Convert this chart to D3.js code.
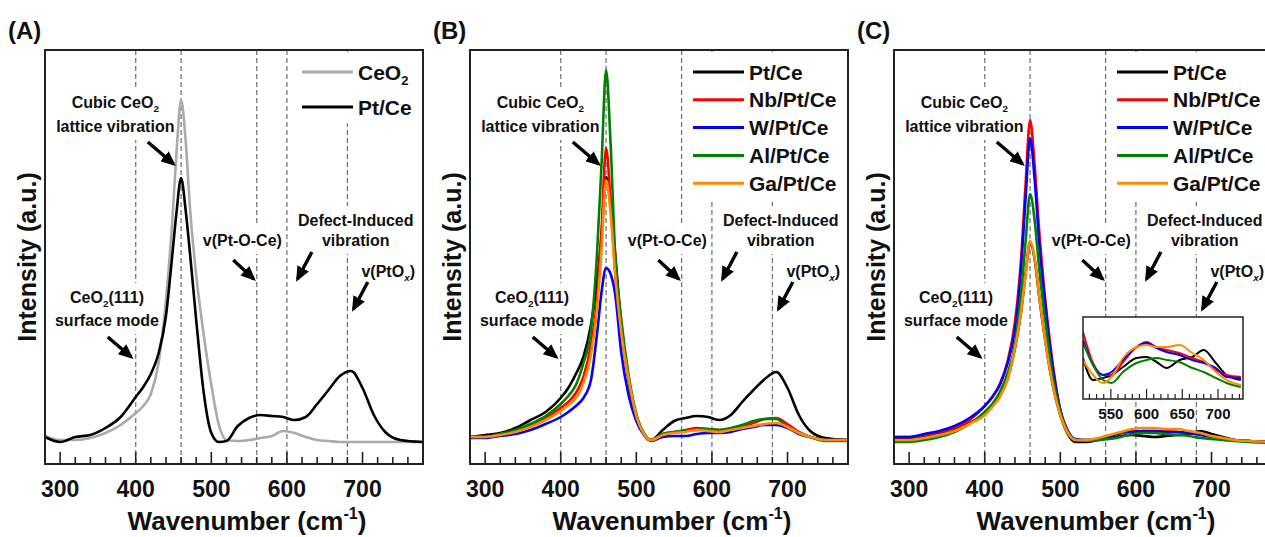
<!DOCTYPE html>
<html>
<head>
<meta charset="utf-8">
<script src="https://cdn.jsdelivr.net/npm/d3@7"></script>
<style>
  body { margin: 0; background: #fff; }
  svg text { font-family: "Liberation Sans", Arial, sans-serif; font-weight: bold; fill: #111; }
</style>
</head>
<body>
<svg id="chart" width="1265" height="537"></svg>
<script>
// Raman spectra, intensity in arbitrary units
const wavenumber = [280,300,320,340,360,380,400,410,420,430,440,448,454,460,466,472,480,490,500,510,520,535,550,565,580,595,610,625,640,655,670,685,700,715,730,750,780];

const ceo2A = [28,24,24,26,31,39,51,58,70,100,164,239,312,364,324,254,189,129,79,39,24,23,24,26,28,33,31,27,24,23,22,22,22,22,22,22,22];
const ptceA = [27,22,27,29,36,47,67,77,90,110,148,206,252,286,254,209,144,71,31,22,23,38,46,49,48,47,44,47,60,74,88,93,76,49,32,24,22];

const ptceB = [27,29,31,36,44,52,66,76,90,107,139,182,229,287,262,210,140,82,46,30,24,34,43,46,48,47,44,49,62,74,85,92,76,49,33,26,24];
const nbB   = [27,27,30,33,38,46,56,62,71,87,119,164,234,316,262,192,132,84,48,30,24,30,32,34,36,35,34,35,38,41,45,46,40,32,27,24,24];
const wB    = [26,26,28,30,34,40,47,52,58,66,84,130,172,196,190,170,112,68,43,29,23,27,28,28,30,31,31,32,35,37,39,39,36,30,27,24,24];
const alB   = [27,27,30,34,40,48,60,68,79,101,134,210,300,394,320,210,145,88,50,31,24,30,32,33,34,35,34,36,39,43,45,45,37,31,27,23,23];
const gaB   = [27,27,29,32,37,44,53,59,66,81,109,154,214,284,250,190,132,84,48,30,24,29,31,32,34,33,32,34,36,38,40,41,37,31,27,24,24];

const ptceC = [25,25,27,30,34,41,50,58,68,85,116,152,190,222,205,168,124,79,49,30,22,22,24,26,28,29,28,27,28,29,30,33,30,27,24,23,22];
const nbC   = [27,27,29,32,36,44,58,67,80,102,142,204,279,344,299,234,165,100,54,33,24,24,25,28,31,33,33,33,33,32,31,30,28,26,24,23,22];
const wC    = [27,27,30,33,38,46,58,67,79,100,135,195,265,326,285,222,160,96,54,33,25,24,25,28,31,32,33,33,32,32,31,29,27,25,24,23,22];
const alC   = [22,22,24,27,32,40,52,60,72,90,120,170,222,270,244,196,144,87,52,32,24,23,24,25,27,30,31,31,30,29,28,26,25,24,23,22,21];
const gaC   = [24,24,26,29,33,40,49,57,67,84,116,152,189,223,206,169,124,79,49,31,24,24,26,29,32,35,36,36,35,35,33,31,28,26,24,23,22];

// magnified view of panel C, 510-735 cm-1
const insetWavenumber = [511,525,539,551,567,586,600,614,628,646,664,680,697,712,732];
const insetPtce = [41,19,21,24,32,41,42,37,31,39,42,49,36,24,19];
const insetNb   = [67,36,24,24,37,52,57,52,49,46,41,37,29,24,22];
const insetW    = [59,34,24,27,39,52,56,51,47,44,39,36,31,22,21];
const insetAl   = [56,34,19,16,27,36,39,41,39,37,31,27,21,16,12];
const insetGa   = [39,24,16,22,41,52,54,52,52,54,46,39,27,19,14];

const modeLines = [400, 460, 560, 600, 680];
const xTicks = [300, 400, 500, 600, 700];
const insetTicks = [550, 600, 650, 700];
const panelLabels = ["(A)", "(B)", "(C)"];
const legendA = ["CeO_{2}", "Pt/Ce"];
const legendBC = ["Pt/Ce", "Nb/Pt/Ce", "W/Pt/Ce", "Al/Pt/Ce", "Ga/Pt/Ce"];
const colorA = ["#aaaaaa", "#000000"];
const colorBC = ["#000000", "#ff0000", "#0000ff", "#008000", "#ff8c00"];

// annotation text, placed in data units (wavenumber, intensity)
const annotations = [
  { lines: ["Cubic CeO_{2}", "lattice vibration"], x: 373, y: [356, 332], arrow: [[416, 322], [450, 300]] },
  { lines: ["CeO_{2}(111)", "surface mode"], x: 362, y: [161, 138], arrow: [[363, 127], [394, 107]] },
  { lines: ["v(Pt-O-Ce)"], x: 541, y: [218], arrow: [[529, 204], [556, 185]] },
  { lines: ["Defect-Induced", "vibration"], x: 691, y: [238, 218], arrow: [[633, 212], [614, 185]] },
  { lines: ["v(PtO_{/x})"], x: 734, y: [187], arrow: [[707, 182], [688, 155]] }
];

const W = 378, H = 414, TOP = 50;
const panelLefts = [45, 470, 894];
const svg = d3.select("#chart");

// defs: arrow head
svg.append("defs").append("marker")
  .attr("id", "head")
  .attr("markerUnits", "userSpaceOnUse")
  .attr("markerWidth", 15).attr("markerHeight", 13)
  .attr("refX", 12).attr("refY", 6.5)
  .attr("orient", "auto")
  .append("path").attr("d", "M0,0 L15,6.5 L0,13 Z").attr("fill", "#000");

/** write text with _{sub} and ^{sup} parts, _{/x} for italic */
function rich(sel, str, size) {
  const parts = str.split(/(_\{[^}]*\}|\^\{[^}]*\})/).filter(p => p.length);
  let cur = 0;
  parts.forEach(p => {
    let target = 0, content = p, fs = size, italic = false;
    if (p.startsWith("_{") || p.startsWith("^{")) {
      content = p.slice(2, -1);
      if (content.startsWith("/")) { italic = true; content = content.slice(1); }
      target = p[0] === "_" ? size * 0.28 : -size * 0.42;
      fs = size * 0.62;
    }
    const t = sel.append("tspan").attr("dy", target - cur).attr("font-size", fs).text(content);
    if (italic) t.attr("font-style", "italic");
    cur = target;
  });
}

function drawPanel(i) {
  const g = svg.append("g").attr("transform", `translate(${panelLefts[i]},${TOP})`);
  const x = d3.scaleLinear().domain([280, 780]).range([0, W]);
  const y = d3.scaleLinear().domain([0, 414]).range([H, 0]);

  g.append("clipPath").attr("id", "clip" + i)
    .append("rect").attr("width", W).attr("height", H);

  // dashed band positions
  g.append("g").selectAll("line").data(modeLines).join("line")
    .attr("x1", d => x(d)).attr("x2", d => x(d))
    .attr("y1", 0).attr("y2", H)
    .attr("stroke", "#6f6f6f").attr("stroke-width", 1.2)
    .attr("stroke-dasharray", "5,3");

  // annotation labels with white boxes
  annotations.forEach(a => {
    const ag = g.append("g");
    const rect = ag.append("rect").attr("fill", "#fff");
    const tg = ag.append("g");
    a.lines.forEach((ln, k) => {
      const t = tg.append("text")
        .attr("x", x(a.x)).attr("y", y(a.y[k]))
        .attr("text-anchor", "middle").attr("font-size", 16);
      rich(t, ln, 16);
    });
    const bb = tg.node().getBBox();
    rect.attr("x", bb.x - 3).attr("y", bb.y - 6)
      .attr("width", bb.width + 6).attr("height", bb.height + 11);
  });

  // legend (box first so it hides dashed lines)
  const names = i === 0 ? legendA : legendBC;
  const cols = i === 0 ? colorA : colorBC;
  const step = i === 0 ? 35 : 27.8;
  const lx = i === 0 ? 257 : 223;
  const lg = g.append("g");
  const lbox = lg.append("rect").attr("fill", "#fff");
  const items = lg.append("g");
  names.forEach((n, k) => {
    const yy = 22 + k * step;
    items.append("line").attr("x1", lx).attr("x2", lx + 51)
      .attr("y1", yy).attr("y2", yy)
      .attr("stroke", cols[k]).attr("stroke-width", 3);
    const t = items.append("text").attr("x", lx + 56).attr("y", yy + 7.5).attr("font-size", 21);
    rich(t, n, 21);
  });
  const lb = items.node().getBBox();
  lbox.attr("x", lb.x - 5).attr("y", 2)
    .attr("width", W - lb.x + 5).attr("height", lb.y + lb.height + 3);

  // spectra
  const series = i === 0 ? [ceo2A, ptceA]
    : i === 1 ? [ptceB, nbB, wB, alB, gaB]
    : [ptceC, nbC, wC, alC, gaC];
  const line = d3.line().x(d => x(d[0])).y(d => y(d[1])).curve(d3.curveMonotoneX);
  const cg = g.append("g").attr("clip-path", `url(#clip${i})`);
  series.forEach((s, k) => {
    cg.append("path").datum(d3.zip(wavenumber, s))
      .attr("d", line).attr("fill", "none")
      .attr("stroke", cols[k]).attr("stroke-width", 2.6)
      .attr("stroke-linejoin", "round");
  });

  // arrows
  annotations.forEach(a => {
    g.append("line")
      .attr("x1", x(a.arrow[0][0])).attr("y1", y(a.arrow[0][1]))
      .attr("x2", x(a.arrow[1][0])).attr("y2", y(a.arrow[1][1]))
      .attr("stroke", "#000").attr("stroke-width", 3.4)
      .attr("marker-end", "url(#head)");
  });

  if (i === 2) drawInset(g);

  // frame and ticks
  g.append("rect").attr("width", W).attr("height", H)
    .attr("fill", "none").attr("stroke", "#222").attr("stroke-width", 2);
  const minor = d3.range(300, 780, 20);
  g.append("g").selectAll("line").data(minor).join("line")
    .attr("x1", d => x(d)).attr("x2", d => x(d))
    .attr("y1", H).attr("y2", d => xTicks.includes(d) ? H - 12 : H - 7)
    .attr("stroke", "#222").attr("stroke-width", 1.6);
  g.append("g").selectAll("text").data(xTicks).join("text")
    .attr("x", d => x(d)).attr("y", H + 33)
    .attr("text-anchor", "middle").attr("font-size", 23)
    .text(d => d);

  const xt = g.append("text").attr("x", 202).attr("y", H + 66)
    .attr("text-anchor", "middle").attr("font-size", 26);
  rich(xt, "Wavenumber (cm^{-1})", 26);

  g.append("text")
    .attr("transform", `translate(-9,${H / 2}) rotate(-90)`)
    .attr("text-anchor", "middle").attr("font-size", 25)
    .text("Intensity (a.u.)");

  g.append("text").attr("x", -37).attr("y", -11)
    .attr("font-size", 24).text(panelLabels[i]);
}

function drawInset(g) {
  const x0 = 189, x1 = 349, y0 = 267, y1 = 349;
  const ix = d3.scaleLinear().domain([511, 735]).range([x0, x1]);
  const iy = d3.scaleLinear().domain([0, 82]).range([y1, y0]);
  const ig = g.append("g");
  ig.append("clipPath").attr("id", "clipInset")
    .append("rect").attr("x", x0).attr("y", y0).attr("width", x1 - x0).attr("height", y1 - y0);
  ig.append("rect").attr("x", x0).attr("y", y0).attr("width", x1 - x0).attr("height", y1 - y0)
    .attr("fill", "#fff");
  const line = d3.line().x(d => ix(d[0])).y(d => iy(d[1])).curve(d3.curveMonotoneX);
  const cg = ig.append("g").attr("clip-path", "url(#clipInset)");
  [insetPtce, insetNb, insetW, insetAl, insetGa].forEach((s, k) => {
    cg.append("path").datum(d3.zip(insetWavenumber, s))
      .attr("d", line).attr("fill", "none")
      .attr("stroke", colorBC[k]).attr("stroke-width", 2);
  });
  const ticks = d3.range(520, 736, 10);
  ig.append("g").selectAll("line").data(ticks).join("line")
    .attr("x1", d => ix(d)).attr("x2", d => ix(d))
    .attr("y1", y1).attr("y2", d => insetTicks.includes(d) ? y1 - 10 : y1 - 5)
    .attr("stroke", "#222").attr("stroke-width", 1.2);
  ig.append("rect").attr("x", x0).attr("y", y0).attr("width", x1 - x0).attr("height", y1 - y0)
    .attr("fill", "none").attr("stroke", "#222").attr("stroke-width", 1.5);
  ig.append("g").selectAll("text").data(insetTicks).join("text")
    .attr("x", d => ix(d)).attr("y", y1 + 20)
    .attr("text-anchor", "middle").attr("font-size", 15)
    .text(d => d);
}

[0, 1, 2].forEach(drawPanel);
</script>
</body>
</html>
